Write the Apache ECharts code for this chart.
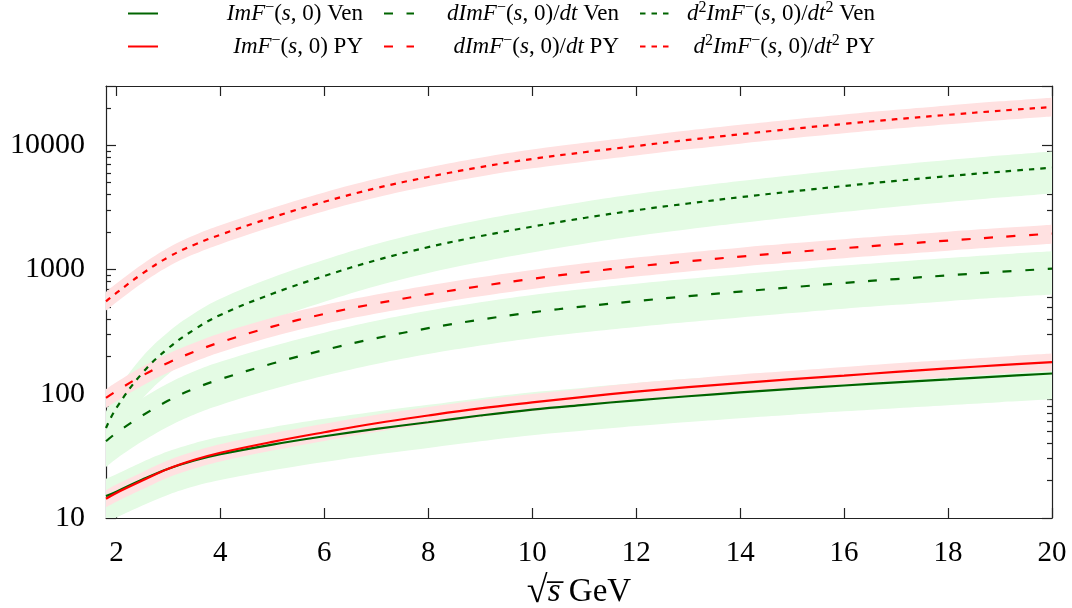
<!DOCTYPE html>
<html>
<head>
<meta charset="utf-8">
<script src="https://cdn.jsdelivr.net/npm/echarts@6/dist/echarts.min.js"></script>
<style>
  html, body { margin: 0; padding: 0; background: #fff; }
  #chart { width: 1072px; height: 608px; }
</style>
</head>
<body>
<div id="chart"></div>
<script>
// sqrt(s) sample points (GeV)
const sqrtS = [1.8, 2, 2.5, 3, 3.5, 4, 5, 6, 7, 8, 9, 10, 11, 12, 13, 14, 15, 16, 17, 18, 19, 20];

// Im F^-(s,0)
const imVen   = [15, 16.3, 20.4, 24.9, 29, 32.6, 39, 45.5, 52.2, 59, 66.8, 74.6, 81.5, 88.5, 95.5, 102.5, 109.5, 116.5, 123.5, 130.5, 138, 145.5];
const imVenLo = [9.3, 10.1, 12.6, 15.4, 18, 20.2, 24.2, 28.2, 32.4, 36.6, 41.4, 46.3, 50.5, 54.9, 59.2, 63.6, 67.9, 72.2, 76.6, 80.9, 85.6, 90.2];
const imVenHi = [20.7, 22.5, 28.2, 34.4, 40, 45, 53.8, 62.8, 72, 81.4, 92.2, 103, 112, 122, 132, 141, 151, 161, 170, 180, 190, 201];
const imPY    = [14.3, 15.9, 20, 24.9, 29.4, 33.5, 41, 49, 57.9, 66.8, 76.2, 85.1, 94.4, 104, 113, 122, 131, 140, 150, 160, 170, 180];
const imPYLo  = [12.2, 13.5, 17, 21.2, 25, 28.5, 34.9, 41.7, 49.2, 56.8, 64.8, 72.3, 80.2, 88.4, 96.1, 104, 111, 119, 128, 136, 145, 153];
const imPYHi  = [16.7, 18.6, 23.4, 29.1, 34.4, 39.2, 48, 57.3, 67.7, 78.2, 89.2, 99.6, 110.4, 122, 132, 143, 153, 164, 176, 187, 199, 211];

// d Im F^-(s,0) / dt
const dVen   = [41.5, 48.4, 66.8, 88.1, 110, 131, 175, 225, 280, 337, 395, 452, 505, 557, 610, 664, 720, 780, 838, 897, 958, 1016];
const dVenLo = [25.7, 30, 41.4, 54.6, 68.2, 81.2, 108.5, 139.5, 173.6, 208.9, 244.9, 280.2, 313.1, 345.3, 378.2, 411.7, 446.4, 483.6, 519.6, 556.1, 594, 630];
const dVenHi = [57.3, 66.8, 92.2, 121.6, 151.8, 180.8, 241.5, 310.5, 386.4, 465, 545, 623.8, 696.9, 768.7, 841.8, 916.3, 993.6, 1076, 1156, 1238, 1322, 1402];
const dPY    = [92.7, 105, 140, 178, 218, 260, 347, 439, 533, 631, 735, 841, 951, 1059, 1164, 1271, 1377, 1486, 1596, 1710, 1828, 1945];
const dPYLo  = [77, 87.2, 116, 148, 181, 216, 288, 364, 442, 524, 610, 698, 789, 879, 966, 1055, 1143, 1233, 1325, 1419, 1517, 1614];
const dPYHi  = [109, 124, 165, 210, 257, 307, 409, 518, 629, 745, 867, 992, 1122, 1250, 1374, 1500, 1625, 1753, 1883, 2018, 2157, 2295];

// d^2 Im F^-(s,0) / dt^2
const d2Ven   = [53, 77, 147, 233, 329, 431, 638, 887, 1189, 1514, 1854, 2213, 2600, 3000, 3400, 3820, 4250, 4700, 5170, 5640, 6120, 6600];
const d2VenLo = [32.9, 47.7, 91.1, 144.5, 204, 267.2, 395.6, 549.9, 737.2, 938.7, 1149, 1372, 1612, 1860, 2108, 2368, 2635, 2914, 3205, 3497, 3794, 4092];
const d2VenHi = [71.6, 104, 198.5, 314.6, 444.2, 581.9, 861.3, 1197, 1605, 2044, 2503, 2988, 3510, 4050, 4590, 5157, 5738, 6345, 6980, 7614, 8262, 8910];
const d2PY    = [555, 648, 927, 1259, 1585, 1905, 2630, 3508, 4519, 5559, 6668, 7762, 8790, 9863, 11040, 12270, 13550, 14860, 16220, 17580, 18970, 20320];
const d2PYLo  = [466, 544, 779, 1058, 1331, 1600, 2209, 2947, 3796, 4670, 5601, 6520, 7384, 8285, 9274, 10307, 11382, 12482, 13625, 14767, 15935, 17069];
const d2PYHi  = [660, 771, 1103, 1498, 1886, 2267, 3130, 4175, 5378, 6615, 7935, 9237, 10460, 11737, 13138, 14601, 16125, 17683, 19302, 20920, 22574, 24181];

// axis ticks
const xTicks = [2, 4, 6, 8, 10, 12, 14, 16, 18, 20];
const yMajor = [10, 100, 1000, 10000];
const yMinor = [20, 30, 40, 50, 60, 70, 80, 90, 200, 300, 400, 500, 600, 700, 800, 900,
                2000, 3000, 4000, 5000, 6000, 7000, 8000, 9000, 20000];

const X_MIN = 1.8, X_MAX = 20, Y_MIN = 10, Y_MAX = 30000;
const FONT = 'Liberation Serif';
const GREEN = '#006400', RED = '#ff0000';
const GREEN_BAND = '#e4fbe4', RED_BAND = '#ffe1e1';
const AXIS = '#222';
const SMOOTH = 0.4;
const DASHED = [9, 13.5], DOTTED = [5.5, 6];

const curves = [
  { name: 'ImF(s,0) Ven',      color: GREEN, dash: 'solid', mid: imVen, lo: imVenLo, hi: imVenHi,
    label: '{i|ImF}{s|−}{r|(}{i|s}{r|, 0) Ven}' },
  { name: 'dImF(s,0)/dt Ven',  color: GREEN, dash: DASHED, mid: dVen, lo: dVenLo, hi: dVenHi,
    label: '{i|dImF}{s|−}{r|(}{i|s}{r|, 0)/}{i|dt}{r| Ven}' },
  { name: 'd2ImF(s,0)/dt2 Ven', color: GREEN, dash: DOTTED, mid: d2Ven, lo: d2VenLo, hi: d2VenHi,
    label: '{i|d}{s|2}{i|ImF}{s|−}{r|(}{i|s}{r|, 0)/}{i|dt}{s|2}{r| Ven}' },
  { name: 'ImF(s,0) PY',       color: RED, dash: 'solid', mid: imPY, lo: imPYLo, hi: imPYHi,
    label: '{i|ImF}{s|−}{r|(}{i|s}{r|, 0) PY}' },
  { name: 'dImF(s,0)/dt PY',   color: RED, dash: DASHED, mid: dPY, lo: dPYLo, hi: dPYHi,
    label: '{i|dImF}{s|−}{r|(}{i|s}{r|, 0)/}{i|dt}{r| PY}' },
  { name: 'd2ImF(s,0)/dt2 PY',  color: RED, dash: DOTTED, mid: d2PY, lo: d2PYLo, hi: d2PYHi,
    label: '{i|d}{s|2}{i|ImF}{s|−}{r|(}{i|s}{r|, 0)/}{i|dt}{s|2}{r| PY}' }
];

// Smooth bezier path through pixel points, same construction as the line series smoothing.
function smoothSegment(pts, smooth, moveFirst) {
  let d = '';
  const n = pts.length;
  let cpx0 = pts[0][0], cpy0 = pts[0][1];
  d += (moveFirst ? 'M' : 'L') + pts[0][0] + ' ' + pts[0][1];
  for (let i = 1; i < n; i++) {
    const p = pts[i];
    const prev = pts[i - 1];
    const next = pts[Math.min(i + 1, n - 1)];
    let cpx1 = p[0], cpy1 = p[1], ncx = p[0], ncy = p[1];
    if (i < n - 1) {
      const vx = next[0] - prev[0], vy = next[1] - prev[1];
      const l0 = Math.hypot(p[0] - prev[0], p[1] - prev[1]);
      const l1 = Math.hypot(next[0] - p[0], next[1] - p[1]);
      const r = l1 / (l0 + l1 || 1);
      cpx1 = p[0] - vx * smooth * (1 - r); cpy1 = p[1] - vy * smooth * (1 - r);
      ncx = p[0] + vx * smooth * r;        ncy = p[1] + vy * smooth * r;
    }
    d += 'C' + cpx0 + ' ' + cpy0 + ' ' + cpx1 + ' ' + cpy1 + ' ' + p[0] + ' ' + p[1];
    cpx0 = ncx; cpy0 = ncy;
  }
  return d;
}

const series = [];

// uncertainty bands (green ones first so the pink ones lie on top)
curves.forEach(c => {
  const fill = c.color === GREEN ? GREEN_BAND : RED_BAND;
  series.push({
    type: 'custom',
    name: c.name + ' band',
    coordinateSystem: 'cartesian2d',
    silent: true,
    clip: true,
    z: 1,
    data: sqrtS.map((x, i) => [x, c.lo[i], c.hi[i]]),
    encode: { x: 0, y: [1, 2] },
    renderItem: (params, api) => {
      if (params.dataIndex !== 0) return null;
      const n = params.dataInsideLength;
      const upper = [], lower = [];
      for (let k = 0; k < n; k++) {
        const x = api.value(0, k);
        upper.push(api.coord([x, api.value(2, k)]));
        lower.push(api.coord([x, api.value(1, k)]));
      }
      lower.reverse();
      const d = smoothSegment(upper, SMOOTH, true) + smoothSegment(lower, SMOOTH, false) + 'Z';
      return { type: 'path', shape: { pathData: d }, style: { fill: fill, stroke: null } };
    }
  });
});

// central curves
curves.forEach(c => {
  series.push({
    type: 'line', name: c.name, symbol: 'none', smooth: SMOOTH, z: 3,
    data: sqrtS.map((x, i) => [x, c.mid[i]]),
    itemStyle: { color: c.color },
    lineStyle: { color: c.color, width: 2.2, type: c.dash }
  });
});

// key: three columns, two rows, text right-aligned in a fixed box after each sample
const legendCols = [127, 383, 639];
const legendRows = [0, 33];
const richKey = {
  i: { fontFamily: FONT, fontStyle: 'italic', fontSize: 23, lineHeight: 27, color: '#000', align: 'right' },
  r: { fontFamily: FONT, fontSize: 23, lineHeight: 27, color: '#000', align: 'right' },
  s: { fontFamily: FONT, fontSize: 16, lineHeight: 18, color: '#000', align: 'right', verticalAlign: 'top' }
};
const legends = curves.map((c, k) => ({
  data: [c.name],
  left: legendCols[k % 3],
  top: legendRows[Math.floor(k / 3)],
  padding: 0,
  itemGap: 0,
  itemWidth: 30,
  itemHeight: 14,
  selectedMode: false,
  itemStyle: { color: 'rgba(0,0,0,0)', borderWidth: 0, opacity: 0 },
  formatter: () => c.label,
  textStyle: { width: 200, color: '#000', fontFamily: FONT, fontSize: 23, rich: richKey }
}));

const lineStyleAxis = { color: AXIS, width: 1.2 };
const logMin = 1, logMax = Math.log10(Y_MAX);
const minorLog = yMinor.map(v => Math.log10(v));

const option = {
  animation: false,
  backgroundColor: '#fff',
  grid: { left: 106, right: 20, top: 86, bottom: 90, containLabel: false, outerBoundsMode: 'none' },
  legend: legends,
  xAxis: [
    {
      type: 'value', min: X_MIN, max: X_MAX, position: 'bottom',
      axisLine: { show: true, onZero: false, lineStyle: lineStyleAxis },
      axisTick: { show: true, inside: true, length: 10, customValues: xTicks, lineStyle: lineStyleAxis },
      axisLabel: { show: true, customValues: xTicks, margin: 21, fontFamily: FONT, fontSize: 29, color: '#000' },
      splitLine: { show: false },
      name: '{q|√}{i|s\u0305}{r| GeV}',
      nameLocation: 'middle',
      nameGap: 45,
      nameTextStyle: {
        fontFamily: FONT, fontSize: 33, color: '#000',
        rich: {
          q: { fontFamily: FONT, fontSize: 38, color: '#000' },
          r: { fontFamily: FONT, fontSize: 33, color: '#000' },
          i: { fontFamily: FONT + ', DejaVu Serif', fontSize: 33, fontStyle: 'italic', color: '#000' }
        }
      }
    },
    {
      type: 'value', min: X_MIN, max: X_MAX, position: 'top',
      axisLine: { show: true, onZero: false, lineStyle: lineStyleAxis },
      axisTick: { show: true, inside: true, length: 10, customValues: xTicks, lineStyle: lineStyleAxis },
      axisLabel: { show: false },
      splitLine: { show: false }
    }
  ],
  yAxis: [
    {
      type: 'log', logBase: 10, min: Y_MIN, max: Y_MAX, position: 'left',
      axisLine: { show: true, onZero: false, lineStyle: lineStyleAxis },
      axisTick: { show: true, inside: true, length: 10, lineStyle: lineStyleAxis },
      minorTick: { show: false },
      splitLine: { show: false },
      axisLabel: {
        show: true, margin: 21, fontFamily: FONT, fontSize: 30, color: '#000',
        formatter: v => (yMajor.indexOf(Math.round(v)) >= 0 ? String(Math.round(v)) : '')
      }
    },
    {
      type: 'value', min: logMin, max: logMax, position: 'left',
      axisLine: { show: false, onZero: false },
      axisTick: { show: true, inside: true, length: 5, customValues: minorLog, lineStyle: lineStyleAxis },
      axisLabel: { show: false },
      splitLine: { show: false }
    },
    {
      type: 'log', logBase: 10, min: Y_MIN, max: Y_MAX, position: 'right',
      axisLine: { show: true, onZero: false, lineStyle: lineStyleAxis },
      axisTick: { show: true, inside: true, length: 10, lineStyle: lineStyleAxis },
      minorTick: { show: false },
      splitLine: { show: false },
      axisLabel: { show: false }
    },
    {
      type: 'value', min: logMin, max: logMax, position: 'right',
      axisLine: { show: false, onZero: false },
      axisTick: { show: true, inside: true, length: 5, customValues: minorLog, lineStyle: lineStyleAxis },
      axisLabel: { show: false },
      splitLine: { show: false }
    }
  ],
  series: series
};

const chart = echarts.init(document.getElementById('chart'), null, { renderer: 'canvas' });
chart.setOption(option);
</script>
</body>
</html>
